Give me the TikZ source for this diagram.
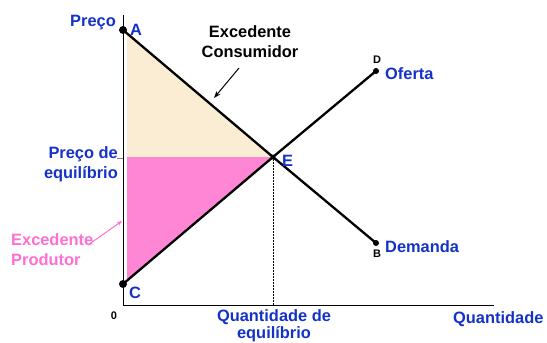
\documentclass[tikz,border=0pt]{standalone}
\usepackage{fontspec}
\setmainfont{Liberation Sans}
\usetikzlibrary{arrows.meta}
\definecolor{tblue}{RGB}{20,50,200}
\definecolor{tpink}{RGB}{255,110,210}
\definecolor{pinkfill}{RGB}{255,133,213}
\definecolor{beige}{RGB}{251,236,212}
\tikzset{
  lbl/.style={font=\fontsize{16.4}{20}\selectfont\bfseries, inner sep=0pt},
  blbl/.style={lbl, text=tblue},
  small/.style={font=\fontsize{11}{12}\selectfont\bfseries, inner sep=0pt},
  curve/.style={line width=2.3pt},
  axis/.style={line width=1pt},
  dot/.style={circle, fill=black, inner sep=0pt, minimum size=#1},
}
\begin{document}
\begin{tikzpicture}[x=1pt,y=-1pt]
\useasboundingbox (0,0) rectangle (547,343);
\coordinate (A) at (123,30);
\coordinate (E) at (273,157);
\coordinate (B) at (376,243);
\coordinate (C) at (123,284);
\coordinate (D) at (376,71);
\coordinate (O) at (123,305);
\coordinate (Ytop) at (123,15);
\coordinate (Xend) at (494,305);
\coordinate (Eq) at (127,157);
% fills
\fill[beige] (127,33) -- (E) -- (Eq) -- cycle;
\fill[pinkfill] (Eq) -- (E) -- (127,281) -- cycle;
% axes
\draw[axis] (Ytop) -- (O) -- (Xend);
\draw[gray, line width=0.6pt] (117,158) -- (123,158);
\draw[densely dotted, line width=0.5pt] (E) -- (273,305);
% curves
\draw[curve] (A) -- (E) -- (B);
\draw[curve] (C) -- (E) -- (D);
\node[dot=8pt] (nA) at (A) {};
\node[dot=8pt] (nC) at (C) {};
\node[dot=6pt] (nD) at (D) {};
\node[dot=6pt] (nB) at (B) {};
\node[dot=5pt] (nE) at (E) {};
% labels
\node[blbl, anchor=east] (preco) at (116,23) {Preço};
\node[blbl, anchor=west] (lA) at (130,30) {A};
\node[lbl, align=center] (excc) at (250,42) {Excedente\\Consumidor};
\coordinate (ca1) at (239,68);
\coordinate (ca2) at (214,98);
\draw[-{Stealth[length=7pt,width=5pt]}, line width=1pt] (ca1) -- (ca2);
\node[blbl, align=right, anchor=east] (peq) at (118,164) {Preço de\\equilíbrio};
\node[blbl, anchor=west] (lE) at (282,161) {E};
\node[lbl, text=tpink, align=left, anchor=west] (excp) at (11,250) {Excedente\\Produtor};
\coordinate (pa1) at (88,245);
\coordinate (pa2) at (122,221);
\draw[-{Stealth[length=5pt,width=4pt]}, tpink, line width=1pt] (pa1) -- (pa2);
\node[blbl, anchor=west] (lC) at (129,293) {C};
\node[small] (zero) at (114,316) {0};
\node[blbl, align=center, font=\fontsize{16.4}{17}\selectfont\bfseries, anchor=south] (qeq) at (274,342) {Quantidade de\\equilíbrio};
\node[blbl, anchor=west] (quant) at (453,319) {Quantidade};
\node[small] (lD) at (377,60) {D};
\node[blbl, anchor=west] (oferta) at (385,74) {Oferta};
\node[small] (lB) at (377,254) {B};
\node[blbl, anchor=west] (dem) at (385,247) {Demanda};
\end{tikzpicture}
\end{document}
